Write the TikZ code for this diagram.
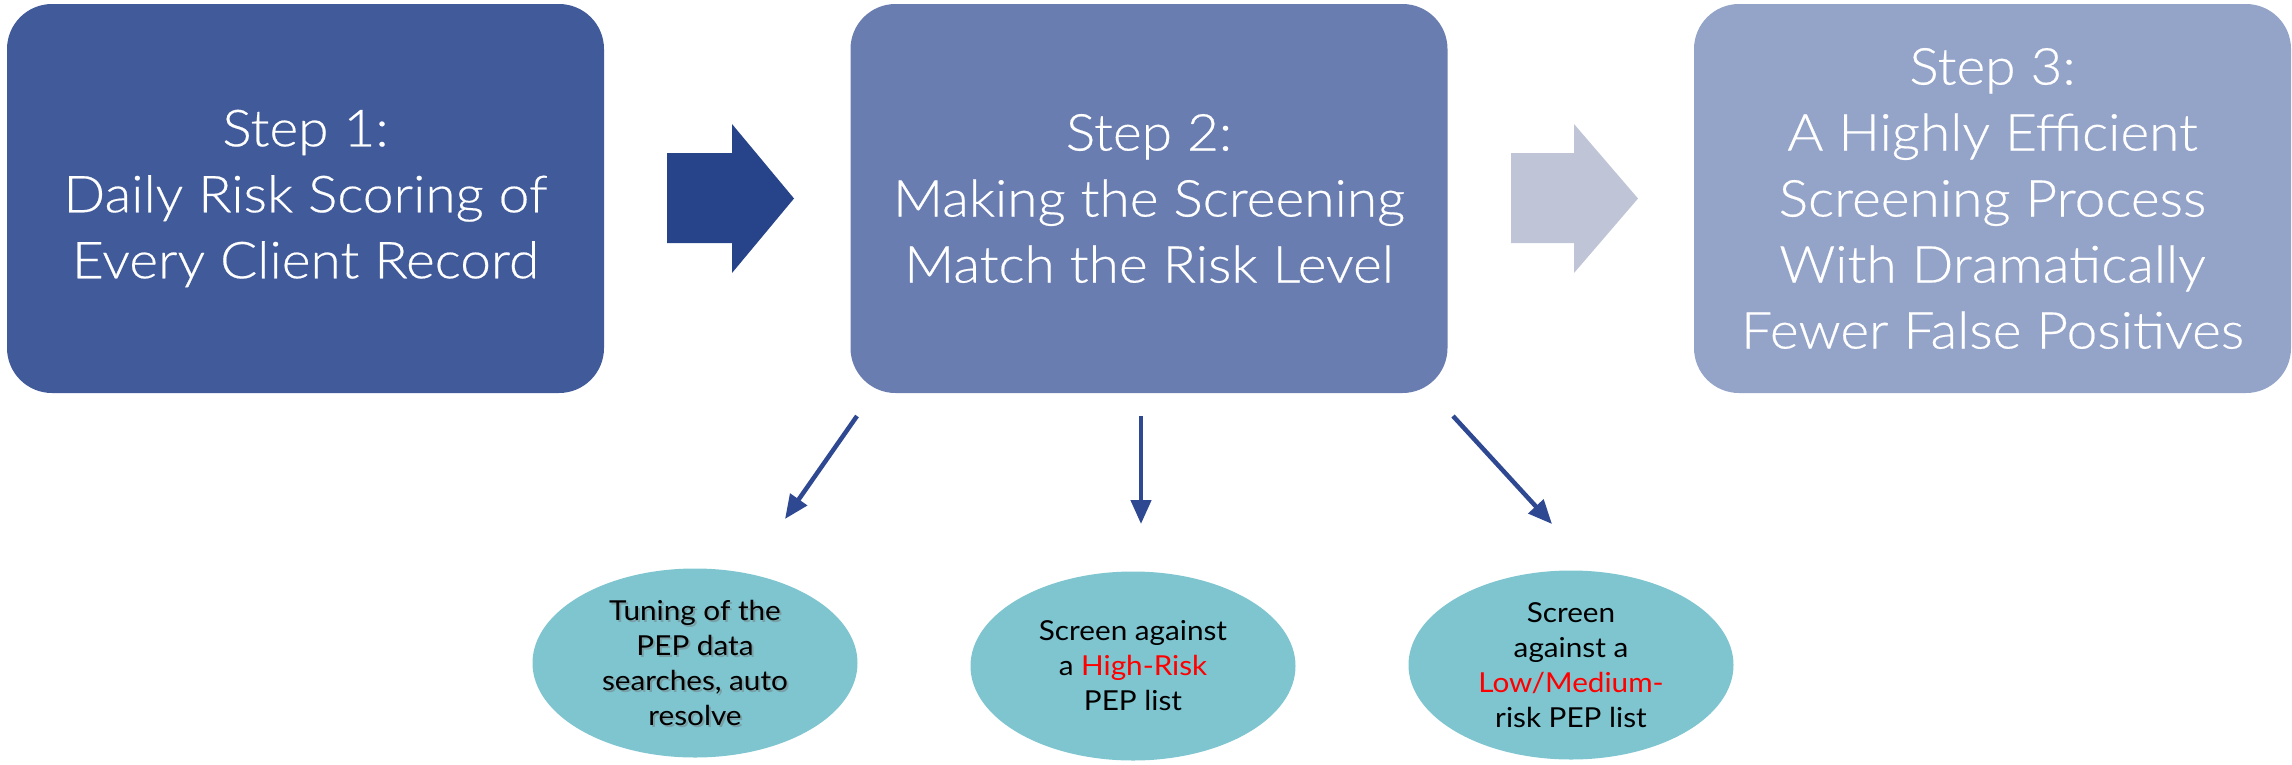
\documentclass[tikz,border=0pt]{standalone}
\usepackage{fontspec}
\setmainfont{Lato}[FakeStretch=1.08]
\newfontfamily\lightfont{Lato Light}[FakeStretch=1.08,FakeBold=0.4]
\usetikzlibrary{shapes.geometric,arrows.meta}
\definecolor{stepa}{HTML}{415A9A}
\definecolor{stepb}{HTML}{6A7DB0}
\definecolor{stepc}{HTML}{94A3C8}
\definecolor{bigarrowa}{HTML}{27448A}
\definecolor{bigarrowb}{HTML}{BFC4D6}
\definecolor{bubble}{HTML}{7EC5D0}
\definecolor{linkblue}{HTML}{2E4892}
\definecolor{hot}{HTML}{FF0000}
\begin{document}
\begin{tikzpicture}[x=1pt,y=-1pt,
  stepbox/.style={rectangle, rounded corners=45pt, minimum width=597pt,
    minimum height=389pt, inner sep=0pt, text=white, align=center,
    font=\lightfont\fontsize{51}{66}\selectfont},
  bubblenode/.style={ellipse, fill=bubble, minimum width=325pt,
    minimum height=189pt, inner sep=0pt},
  bubbletext/.style={align=center, text=black,
    font=\fontsize{27.5}{35}\selectfont},
  linkarrow/.style={draw=linkblue, line width=4.5pt,
    -{Triangle[length=24pt,width=20pt]}}
]
\useasboundingbox (0,0) rectangle (2292,764);

% three process steps
\node[stepbox, fill=stepa] (s1) at (305.5,198.5)
  {Step 1:\\Daily Risk Scoring of\\Every Client Record};
\node[stepbox, fill=stepb] (s2) at (1149,198.5)
  {Step 2:\\Making the Screening\\Match the Risk Level};
\node[stepbox, fill=stepc] (s3) at (1992.5,198.5)
  {Step 3:\\A Highly Efficient\\Screening Process\\With Dramatically\\Fewer False Positives};

% block arrows between the steps
\fill[bigarrowa] (667,153) -- (732,153) -- (732,124) -- (794,198.5)
  -- (732,273) -- (732,243) -- (667,243) -- cycle;
\fill[bigarrowb] (1511,153) -- (1574,153) -- (1574,124) -- (1638,198.5)
  -- (1574,273) -- (1574,243) -- (1511,243) -- cycle;

% screening options
\node[bubblenode] (e1) at (695,663) {};
\node[bubblenode] (e2) at (1133,666) {};
\node[bubblenode] (e3) at (1571,665) {};

\node[bubbletext, text=black!55, opacity=0.45] (t1s) at ([shift={(2,2)}]e1.center)
  {Tuning of the\\PEP data\\searches, auto\\resolve};
\node[bubbletext] (t1) at (e1.center)
  {Tuning of the\\PEP data\\searches, auto\\resolve};
\node[bubbletext] (t2) at (e2.center)
  {Screen against\\a \textcolor{hot}{High-Risk}\\PEP list};
\node[bubbletext] (t3) at (e3.center)
  {Screen\\against a\\\textcolor{hot}{Low/Medium-}\\risk PEP list};

% connectors from step 2 to the options
\coordinate (a1s) at (857,416);
\coordinate (a1e) at (785,519);
\coordinate (a2s) at (1141,416);
\coordinate (a2e) at (1141,524);
\coordinate (a3s) at (1453,416);
\coordinate (a3e) at (1552,524);
\draw[linkarrow] (a1s) -- (a1e);
\draw[linkarrow] (a2s) -- (a2e);
\draw[linkarrow] (a3s) -- (a3e);
\end{tikzpicture}
\end{document}
